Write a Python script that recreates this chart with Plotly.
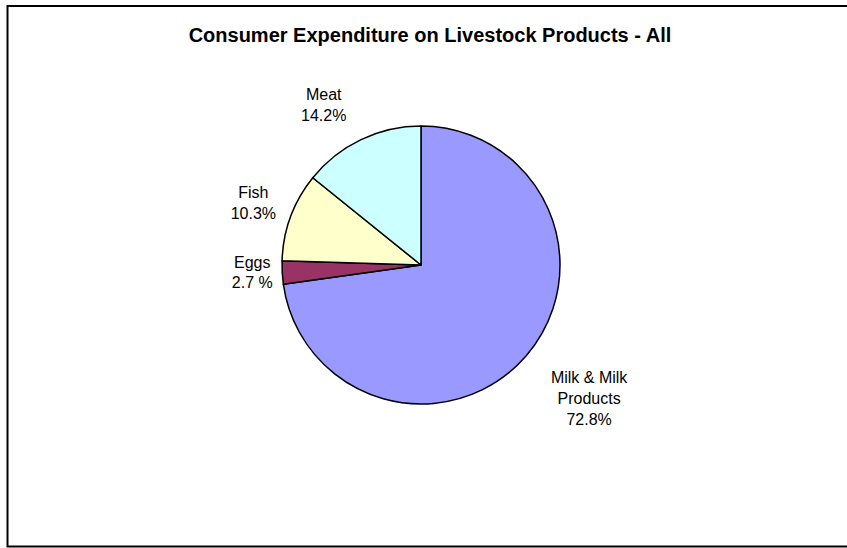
import plotly.graph_objects as go

# data
categories = ["Milk & Milk<br>Products", "Eggs", "Fish", "Meat"]
shares = [72.8, 2.7, 10.3, 14.2]
share_labels = ["72.8%", "2.7 %", "10.3%", "14.2%"]
slice_colors = ["#9999FF", "#993366", "#FFFFCC", "#CCFFFF"]

W, H = 847, 548
cx, cy, r = 421, 265, 139

# blank lines push the outside labels a little further from the pie, as in the original
label_formats = [
    " <br> <br>%{label}<br>%{text}",
    "%{label}<br>%{text}",
    "%{label}<br>%{text}<br> ",
    "%{label}<br>%{text}<br> ",
]

fig = go.Figure()
fig.add_trace(go.Pie(
    labels=categories,
    values=shares,
    text=share_labels,
    texttemplate=label_formats,
    textposition="outside",
    sort=False,
    direction="clockwise",
    rotation=0,
    marker=dict(colors=slice_colors, line=dict(color="black", width=1.5)),
    outsidetextfont=dict(family="Liberation Sans", size=16, color="black"),
    domain=dict(x=[(cx - r) / W, (cx + r) / W],
                y=[1 - (cy + r) / H, 1 - (cy - r) / H]),
    showlegend=False,
    hoverinfo="label+text",
))

# chart frame
fig.add_shape(type="rect", xref="paper", yref="paper",
              x0=7.5 / W, x1=1.01, y0=1 - 546.5 / H, y1=1 - 6 / H,
              line=dict(color="black", width=2), fillcolor="rgba(0,0,0,0)")

fig.update_layout(
    width=W, height=H,
    margin=dict(l=0, r=0, t=0, b=0),
    paper_bgcolor="white",
    plot_bgcolor="white",
    title=dict(text="<b>Consumer Expenditure on Livestock Products - All</b>",
               x=430 / W, xanchor="center", y=1 - 35 / H, yanchor="middle",
               font=dict(family="Liberation Sans", size=20, color="black")),
)

# drop the default page margin so the figure sits at the window origin
fig.write_html("out.html", config={"displayModeBar": False},
               post_script="document.body.style.margin='0';")
